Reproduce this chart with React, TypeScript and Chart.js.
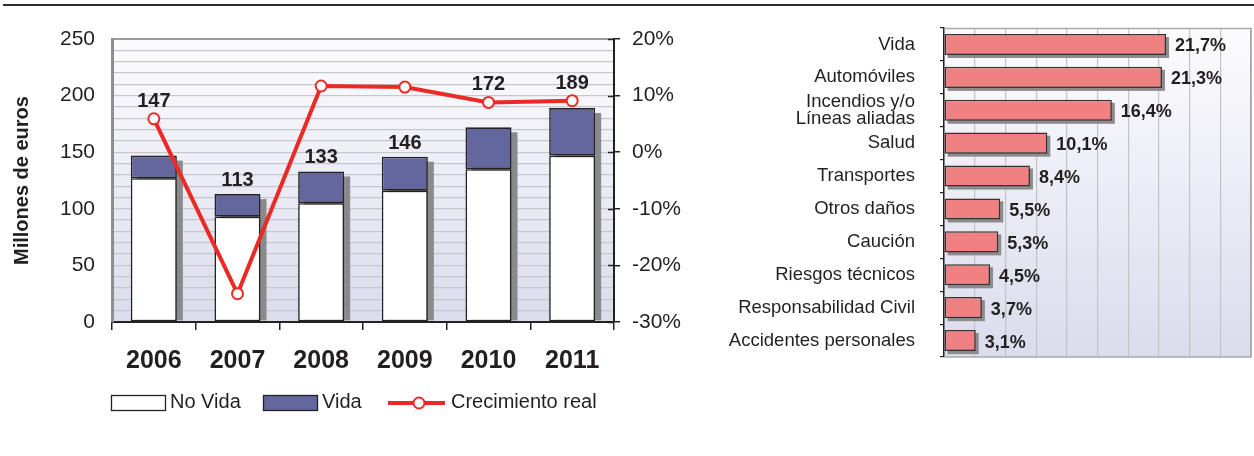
import React, { useEffect, useRef } from 'react';
import { Chart, registerables } from 'chart.js';

Chart.register(...registerables);

const FONT = '"Liberation Sans", Arial, Helvetica, sans-serif';
const TEXT = '#231f20';

// ---- Left chart data ----
const years = ['2006', '2007', '2008', '2009', '2010', '2011'];
const noVida = [127, 93, 105, 116, 135, 147];
const vida = [20, 20, 28, 30, 37, 42];
const totals = [147, 113, 133, 146, 172, 189];
const crecimiento = [5.9, -25.0, 11.7, 11.5, 8.8, 9.1];

// ---- Right chart data ----
const ramos: (string | string[])[] = [
  'Vida',
  'Automóviles',
  ['Incendios y/o', 'Líneas aliadas'],
  'Salud',
  'Transportes',
  'Otros daños',
  'Caución',
  'Riesgos técnicos',
  'Responsabilidad Civil',
  'Accidentes personales',
];
const cuotas = [21.7, 21.3, 16.4, 10.1, 8.4, 5.5, 5.3, 4.5, 3.7, 3.1];

const RED = '#ec2a25';
const VIDA_COLOR = '#63679d';
const PINK = '#f08081';

const plotBackground = {
  id: 'plotBackground',
  beforeDraw(chart: any) {
    const { ctx, chartArea: a } = chart;
    ctx.save();
    const g = ctx.createLinearGradient(0, a.top, 0, a.bottom);
    g.addColorStop(0, '#fcfcfe');
    g.addColorStop(1, '#dbdcec');
    ctx.fillStyle = g;
    ctx.fillRect(a.left, a.top, a.right - a.left, a.bottom - a.top);
    ctx.restore();
  },
};

const LeftChart = () => {
  const ref = useRef<HTMLCanvasElement>(null);
  useEffect(() => {
    const shadow = {
      id: 'barShadow',
      beforeDatasetsDraw(chart: any) {
        const { ctx } = chart;
        const m0 = chart.getDatasetMeta(0);
        const m1 = chart.getDatasetMeta(1);
        ctx.save();
        ctx.fillStyle = '#8a8a8c';
        m1.data.forEach((bar: any, i: number) => {
          const { x, y, width } = bar.getProps(['x', 'y', 'width'], true);
          const base = m0.data[i].getProps(['base'], true).base;
          ctx.fillRect(x - width / 2 + 6, y + 5, width, base - y - 6);
        });
        ctx.restore();
      },
    };
    const totalsLabels = {
      id: 'totalsLabels',
      afterDatasetsDraw(chart: any) {
        const { ctx } = chart;
        const m1 = chart.getDatasetMeta(1);
        const m2 = chart.getDatasetMeta(2);
        ctx.save();
        ctx.font = `bold 20px ${FONT}`;
        ctx.fillStyle = TEXT;
        ctx.textAlign = 'center';
        ctx.textBaseline = 'alphabetic';
        m1.data.forEach((bar: any, i: number) => {
          const { x, y } = bar.getProps(['x', 'y'], true);
          const py = m2.data[i].y;
          let by = y - 8;
          if (py < y && y - py < 50) by = py - 12;
          ctx.fillText(String(totals[i]), x, by);
        });
        ctx.restore();
      },
    };
    const extras = {
      id: 'extras',
      afterDraw(chart: any) {
        const { ctx, chartArea: a } = chart;
        const y2 = chart.scales.y2;
        ctx.save();
        // inner ticks on right axis
        ctx.strokeStyle = '#222';
        ctx.lineWidth = 1.5;
        y2.ticks.forEach((_t: any, i: number) => {
          const py = Math.round(y2.getPixelForTick(i)) + 0.5;
          ctx.beginPath();
          ctx.moveTo(a.right - 6, py);
          ctx.lineTo(a.right, py);
          ctx.stroke();
        });
        // legend
        const ds = chart.data.datasets;
        const cy = 402;
        const x0 = a.left - 1;
        ctx.font = `20px ${FONT}`;
        ctx.textBaseline = 'middle';
        ctx.textAlign = 'left';
        // No Vida
        ctx.fillStyle = '#ffffff';
        ctx.fillRect(x0, 395, 54, 15);
        ctx.lineWidth = 1.3;
        ctx.strokeStyle = '#222';
        ctx.strokeRect(x0 + 0.5, 395.5, 54, 15);
        ctx.fillStyle = TEXT;
        ctx.fillText(ds[0].label, x0 + 59, cy);
        // Vida
        const x1 = x0 + 152;
        ctx.fillStyle = VIDA_COLOR;
        ctx.fillRect(x1, 395, 54, 15);
        ctx.strokeRect(x1 + 0.5, 395.5, 54, 15);
        ctx.fillStyle = TEXT;
        ctx.fillText(ds[1].label, x1 + 59, cy);
        // line
        const x2 = x0 + 277;
        ctx.strokeStyle = RED;
        ctx.lineWidth = 4;
        ctx.beginPath();
        ctx.moveTo(x2, cy + 1);
        ctx.lineTo(x2 + 57, cy + 1);
        ctx.stroke();
        ctx.beginPath();
        ctx.arc(x2 + 31, cy + 1, 5.5, 0, Math.PI * 2);
        ctx.fillStyle = '#fff';
        ctx.fill();
        ctx.lineWidth = 2;
        ctx.stroke();
        ctx.fillStyle = TEXT;
        ctx.fillText(ds[2].label, x2 + 63, cy);
        ctx.restore();
      },
    };

    const chart = new Chart(ref.current!, {
      type: 'bar',
      data: {
        labels: years,
        datasets: [
          {
            type: 'bar',
            label: 'No Vida',
            data: noVida,
            backgroundColor: '#ffffff',
            borderColor: '#222',
            borderWidth: 1.6,
            borderSkipped: false,
            yAxisID: 'y',
            stack: 's',
            order: 1,
            barPercentage: 0.55,
            categoryPercentage: 1,
          } as any,
          {
            type: 'bar',
            label: 'Vida',
            data: vida,
            backgroundColor: VIDA_COLOR,
            borderColor: '#222',
            borderWidth: 1.6,
            borderSkipped: false,
            yAxisID: 'y',
            stack: 's',
            order: 1,
            barPercentage: 0.55,
            categoryPercentage: 1,
          } as any,
          {
            type: 'line',
            label: 'Crecimiento real',
            data: crecimiento,
            yAxisID: 'y2',
            borderColor: RED,
            borderWidth: 4,
            tension: 0,
            pointRadius: 5.5,
            pointBackgroundColor: '#ffffff',
            pointBorderColor: RED,
            pointBorderWidth: 2,
            order: 0,
          } as any,
        ],
      },
      options: {
        responsive: false,
        animation: false,
        layout: { padding: { top: 39, left: 0, right: 0, bottom: 0 } },
        plugins: { legend: { display: false }, tooltip: { enabled: false } },
        scales: {
          x: {
            stacked: true,
            offset: true,
            grid: {
              offset: true,
              drawOnChartArea: false,
              drawTicks: true,
              tickLength: 8,
              color: '#222',
              lineWidth: 1.5,
            },
            border: { display: true, color: '#222', width: 2 },
            ticks: { font: { family: FONT, size: 25, weight: 'bold' }, color: TEXT, padding: 16 },
            afterFit: (s: any) => {
              s.height = 134;
            },
          },
          y: {
            stacked: true,
            position: 'left',
            min: 0,
            max: 250,
            ticks: {
              stepSize: 10,
              autoSkip: false,
              font: { family: FONT, size: 21 },
              color: TEXT,
              padding: 17,
              callback: (v: any) => (Number(v) % 50 === 0 ? String(v) : ''),
            },
            grid: {
              drawTicks: false,
              color: (c: any) => (c.tick && c.tick.value === 250 ? '#9c9c9c' : '#c5c6ce'),
              lineWidth: (c: any) => (c.tick && c.tick.value === 250 ? 2 : 1.3),
            },
            border: { display: true, color: '#8d8d8f', width: 3 },
            title: {
              display: true,
              text: 'Millones de euros',
              font: { family: FONT, size: 20, weight: 'bold' },
              color: TEXT,
              padding: { top: 10, bottom: 0 },
            },
            afterFit: (s: any) => {
              s.width = 112;
            },
          },
          y2: {
            position: 'right',
            min: -30,
            max: 20,
            ticks: {
              stepSize: 10,
              font: { family: FONT, size: 21 },
              color: TEXT,
              padding: 12,
              callback: (v: any) => `${v}%`,
            },
            grid: {
              drawOnChartArea: false,
              drawTicks: true,
              tickLength: 6,
              color: '#222',
              lineWidth: 1.5,
            },
            border: { display: true, color: '#222', width: 2 },
            afterFit: (s: any) => {
              s.width = 86;
            },
          },
        },
      } as any,
      plugins: [plotBackground, shadow, totalsLabels, extras],
    });
    return () => chart.destroy();
  }, []);
  return (
    <canvas ref={ref} width={700} height={456} style={{ position: 'absolute', left: 0, top: 0 }} />
  );
};

const RightChart = () => {
  const ref = useRef<HTMLCanvasElement>(null);
  useEffect(() => {
    const frame = {
      id: 'frame',
      beforeDatasetsDraw(chart: any) {
        const { ctx, chartArea: a } = chart;
        ctx.save();
        ctx.strokeStyle = '#a9a9ad';
        ctx.lineWidth = 1.5;
        ctx.beginPath();
        ctx.moveTo(a.left, a.top + 0.5);
        ctx.lineTo(a.right, a.top + 0.5);
        ctx.lineTo(a.right, a.bottom);
        ctx.lineTo(a.left, a.bottom);
        ctx.stroke();
        // shadows
        const meta = chart.getDatasetMeta(0);
        ctx.fillStyle = '#8c8c8e';
        meta.data.forEach((bar: any) => {
          const { x, y, base, height } = bar.getProps(['x', 'y', 'base', 'height'], true);
          ctx.fillRect(base + 3, y - height / 2 + 3, x - base, height);
        });
        ctx.restore();
      },
      afterDatasetsDraw(chart: any) {
        const { ctx } = chart;
        const meta = chart.getDatasetMeta(0);
        ctx.save();
        ctx.font = `bold 18px ${FONT}`;
        ctx.fillStyle = TEXT;
        ctx.textAlign = 'left';
        ctx.textBaseline = 'middle';
        meta.data.forEach((bar: any, i: number) => {
          const { x, y } = bar.getProps(['x', 'y'], true);
          ctx.fillText(cuotas[i].toFixed(1).replace('.', ',') + '%', x + 9, y + 2);
        });
        ctx.restore();
      },
    };
    const chart = new Chart(ref.current!, {
      type: 'bar',
      data: {
        labels: ramos as any,
        datasets: [
          {
            label: 'Cuota',
            data: cuotas,
            backgroundColor: PINK,
            borderColor: '#333',
            borderWidth: 1.5,
            borderSkipped: false,
            barPercentage: 0.64,
            categoryPercentage: 1,
          } as any,
        ],
      },
      options: {
        indexAxis: 'y',
        responsive: false,
        animation: false,
        layout: { padding: { top: 28, right: 3, bottom: 99, left: 0 } },
        plugins: { legend: { display: false }, tooltip: { enabled: false } },
        scales: {
          x: {
            min: 0,
            max: 30,
            ticks: { display: false, stepSize: 3 },
            grid: {
              drawTicks: false,
              color: (c: any) => (c.tick && c.tick.value === 30 ? '#a9a9ad' : '#c3c3c8'),
              lineWidth: (c: any) => (c.tick && c.tick.value === 30 ? 1.5 : 1.2),
            },
            border: { display: false },
            afterFit: (s: any) => {
              s.height = 0;
            },
          },
          y: {
            offset: true,
            ticks: {
              font: { family: FONT, size: 18.5, lineHeight: 0.9 },
              color: TEXT,
              padding: 25,
              autoSkip: false,
            },
            grid: {
              offset: true,
              drawOnChartArea: false,
              drawTicks: true,
              tickLength: 4,
              color: '#222',
              lineWidth: 1.2,
            },
            border: { display: true, color: '#222', width: 1.5 },
            afterFit: (s: any) => {
              s.width = 244;
              s.paddingTop = 0;
              s.paddingBottom = 0;
            },
          },
        },
      } as any,
      plugins: [plotBackground, frame],
    });
    return () => chart.destroy();
  }, []);
  return (
    <canvas ref={ref} width={554} height={456} style={{ position: 'absolute', left: 700, top: 0 }} />
  );
};

export default function App() {
  return (
    <div
      style={{
        position: 'absolute',
        left: 0,
        top: 0,
        width: 1254,
        height: 456,
        background: '#ffffff',
        overflow: 'hidden',
      }}
    >
      <div
        style={{
          position: 'absolute',
          left: 3,
          top: 4,
          width: 1251,
          height: 2,
          background: '#2b2b2b',
        }}
      />
      <LeftChart />
      <RightChart />
    </div>
  );
}
